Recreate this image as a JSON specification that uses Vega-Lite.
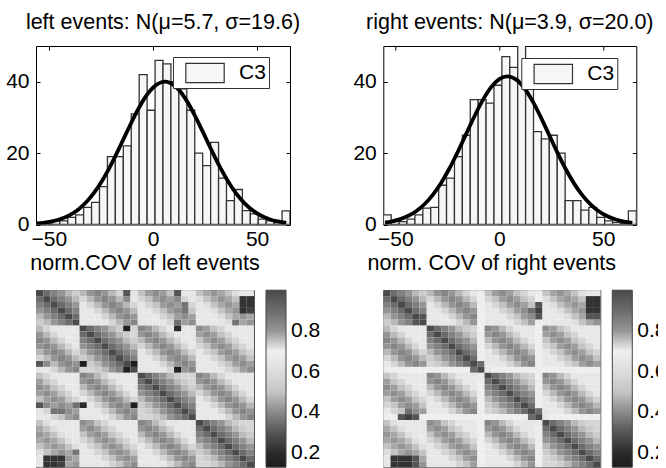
{
  "$schema": "https://vega.github.io/schema/vega-lite/v6.json",
  "padding": {"left": 5, "top": 11, "right": -10, "bottom": -1},
  "background": "white",
  "config": {"font": "Liberation Sans", "view": {"stroke": "black"}, "axis": {"labelColor": "black", "tickColor": "black"}},
  "columns": 2,
  "bounds": "flush",
  "spacing": {"row": 65.2, "column": 93.3},
  "resolve": {"scale": {"fill": "independent", "color": "independent"}, "legend": {"fill": "independent", "color": "independent"}},
  "datasets": {
    "L": [
{"r":0,"c":0,"v":1},{"r":0,"c":1,"v":0.9},{"r":0,"c":2,"v":0.85},{"r":0,"c":3,"v":0.8},{"r":0,"c":4,"v":0.76},{"r":0,"c":5,"v":0.74},{"r":0,"c":6,"v":0.76},{"r":0,"c":7,"v":0.8},{"r":0,"c":8,"v":0.84},{"r":0,"c":9,"v":0.8},{"r":0,"c":10,"v":0.76},{"r":0,"c":11,"v":0.73},{"r":0,"c":12,"v":0.3},{"r":0,"c":13,"v":0.71},{"r":0,"c":14,"v":0.75},{"r":0,"c":15,"v":0.79},{"r":0,"c":16,"v":0.82},{"r":0,"c":17,"v":0.79},{"r":0,"c":18,"v":0.75},{"r":0,"c":19,"v":0.3},{"r":0,"c":20,"v":0.71},{"r":0,"c":21,"v":0.71},{"r":0,"c":22,"v":0.75},{"r":0,"c":23,"v":0.78},{"r":0,"c":24,"v":0.8},{"r":0,"c":25,"v":0.78},{"r":0,"c":26,"v":0.75},{"r":0,"c":27,"v":0.72},{"r":0,"c":28,"v":0.71},{"r":0,"c":29,"v":0.71},
{"r":1,"c":0,"v":0.9},{"r":1,"c":1,"v":1},{"r":1,"c":2,"v":0.9},{"r":1,"c":3,"v":0.85},{"r":1,"c":4,"v":0.8},{"r":1,"c":5,"v":0.76},{"r":1,"c":6,"v":0.73},{"r":1,"c":7,"v":0.76},{"r":1,"c":8,"v":0.8},{"r":1,"c":9,"v":0.84},{"r":1,"c":10,"v":0.8},{"r":1,"c":11,"v":0.76},{"r":1,"c":12,"v":0.4},{"r":1,"c":13,"v":0.71},{"r":1,"c":14,"v":0.73},{"r":1,"c":15,"v":0.75},{"r":1,"c":16,"v":0.79},{"r":1,"c":17,"v":0.82},{"r":1,"c":18,"v":0.79},{"r":1,"c":19,"v":0.4},{"r":1,"c":20,"v":0.73},{"r":1,"c":21,"v":0.71},{"r":1,"c":22,"v":0.72},{"r":1,"c":23,"v":0.75},{"r":1,"c":24,"v":0.78},{"r":1,"c":25,"v":0.8},{"r":1,"c":26,"v":0.78},{"r":1,"c":27,"v":0.75},{"r":1,"c":28,"v":0.22},{"r":1,"c":29,"v":0.22},
{"r":2,"c":0,"v":0.85},{"r":2,"c":1,"v":0.9},{"r":2,"c":2,"v":1},{"r":2,"c":3,"v":0.9},{"r":2,"c":4,"v":0.85},{"r":2,"c":5,"v":0.8},{"r":2,"c":6,"v":0.71},{"r":2,"c":7,"v":0.73},{"r":2,"c":8,"v":0.76},{"r":2,"c":9,"v":0.8},{"r":2,"c":10,"v":0.84},{"r":2,"c":11,"v":0.8},{"r":2,"c":12,"v":0.76},{"r":2,"c":13,"v":0.73},{"r":2,"c":14,"v":0.71},{"r":2,"c":15,"v":0.73},{"r":2,"c":16,"v":0.75},{"r":2,"c":17,"v":0.79},{"r":2,"c":18,"v":0.82},{"r":2,"c":19,"v":0.79},{"r":2,"c":20,"v":0.88},{"r":2,"c":21,"v":0.73},{"r":2,"c":22,"v":0.71},{"r":2,"c":23,"v":0.72},{"r":2,"c":24,"v":0.75},{"r":2,"c":25,"v":0.78},{"r":2,"c":26,"v":0.8},{"r":2,"c":27,"v":0.78},{"r":2,"c":28,"v":0.22},{"r":2,"c":29,"v":0.22},
{"r":3,"c":0,"v":0.8},{"r":3,"c":1,"v":0.85},{"r":3,"c":2,"v":0.9},{"r":3,"c":3,"v":1},{"r":3,"c":4,"v":0.9},{"r":3,"c":5,"v":0.85},{"r":3,"c":6,"v":0.71},{"r":3,"c":7,"v":0.71},{"r":3,"c":8,"v":0.73},{"r":3,"c":9,"v":0.76},{"r":3,"c":10,"v":0.8},{"r":3,"c":11,"v":0.84},{"r":3,"c":12,"v":0.8},{"r":3,"c":13,"v":0.76},{"r":3,"c":14,"v":0.71},{"r":3,"c":15,"v":0.71},{"r":3,"c":16,"v":0.73},{"r":3,"c":17,"v":0.75},{"r":3,"c":18,"v":0.79},{"r":3,"c":19,"v":0.82},{"r":3,"c":20,"v":0.88},{"r":3,"c":21,"v":0.75},{"r":3,"c":22,"v":0.71},{"r":3,"c":23,"v":0.71},{"r":3,"c":24,"v":0.72},{"r":3,"c":25,"v":0.75},{"r":3,"c":26,"v":0.78},{"r":3,"c":27,"v":0.8},{"r":3,"c":28,"v":0.22},{"r":3,"c":29,"v":0.25},
{"r":4,"c":0,"v":0.76},{"r":4,"c":1,"v":0.8},{"r":4,"c":2,"v":0.85},{"r":4,"c":3,"v":0.9},{"r":4,"c":4,"v":1},{"r":4,"c":5,"v":0.9},{"r":4,"c":6,"v":0.71},{"r":4,"c":7,"v":0.71},{"r":4,"c":8,"v":0.71},{"r":4,"c":9,"v":0.73},{"r":4,"c":10,"v":0.76},{"r":4,"c":11,"v":0.8},{"r":4,"c":12,"v":0.84},{"r":4,"c":13,"v":0.8},{"r":4,"c":14,"v":0.71},{"r":4,"c":15,"v":0.71},{"r":4,"c":16,"v":0.71},{"r":4,"c":17,"v":0.73},{"r":4,"c":18,"v":0.75},{"r":4,"c":19,"v":0.79},{"r":4,"c":20,"v":0.82},{"r":4,"c":21,"v":0.79},{"r":4,"c":22,"v":0.71},{"r":4,"c":23,"v":0.71},{"r":4,"c":24,"v":0.71},{"r":4,"c":25,"v":0.72},{"r":4,"c":26,"v":0.75},{"r":4,"c":27,"v":0.78},{"r":4,"c":28,"v":0.8},{"r":4,"c":29,"v":0.78},
{"r":5,"c":0,"v":0.74},{"r":5,"c":1,"v":0.76},{"r":5,"c":2,"v":0.8},{"r":5,"c":3,"v":0.85},{"r":5,"c":4,"v":0.9},{"r":5,"c":5,"v":1},{"r":5,"c":6,"v":0.71},{"r":5,"c":7,"v":0.71},{"r":5,"c":8,"v":0.71},{"r":5,"c":9,"v":0.71},{"r":5,"c":10,"v":0.73},{"r":5,"c":11,"v":0.76},{"r":5,"c":12,"v":0.8},{"r":5,"c":13,"v":0.84},{"r":5,"c":14,"v":0.71},{"r":5,"c":15,"v":0.71},{"r":5,"c":16,"v":0.71},{"r":5,"c":17,"v":0.71},{"r":5,"c":18,"v":0.73},{"r":5,"c":19,"v":0.35},{"r":5,"c":20,"v":0.79},{"r":5,"c":21,"v":0.82},{"r":5,"c":22,"v":0.71},{"r":5,"c":23,"v":0.71},{"r":5,"c":24,"v":0.71},{"r":5,"c":25,"v":0.71},{"r":5,"c":26,"v":0.72},{"r":5,"c":27,"v":0.88},{"r":5,"c":28,"v":0.78},{"r":5,"c":29,"v":0.8},
{"r":6,"c":0,"v":0.76},{"r":6,"c":1,"v":0.73},{"r":6,"c":2,"v":0.71},{"r":6,"c":3,"v":0.71},{"r":6,"c":4,"v":0.71},{"r":6,"c":5,"v":0.71},{"r":6,"c":6,"v":1},{"r":6,"c":7,"v":0.9},{"r":6,"c":8,"v":0.85},{"r":6,"c":9,"v":0.8},{"r":6,"c":10,"v":0.76},{"r":6,"c":11,"v":0.74},{"r":6,"c":12,"v":0.15},{"r":6,"c":13,"v":0.73},{"r":6,"c":14,"v":0.84},{"r":6,"c":15,"v":0.8},{"r":6,"c":16,"v":0.76},{"r":6,"c":17,"v":0.73},{"r":6,"c":18,"v":0.71},{"r":6,"c":19,"v":0.2},{"r":6,"c":20,"v":0.71},{"r":6,"c":21,"v":0.71},{"r":6,"c":22,"v":0.82},{"r":6,"c":23,"v":0.79},{"r":6,"c":24,"v":0.75},{"r":6,"c":25,"v":0.73},{"r":6,"c":26,"v":0.71},{"r":6,"c":27,"v":0.71},{"r":6,"c":28,"v":0.71},{"r":6,"c":29,"v":0.71},
{"r":7,"c":0,"v":0.8},{"r":7,"c":1,"v":0.76},{"r":7,"c":2,"v":0.73},{"r":7,"c":3,"v":0.71},{"r":7,"c":4,"v":0.71},{"r":7,"c":5,"v":0.71},{"r":7,"c":6,"v":0.9},{"r":7,"c":7,"v":1},{"r":7,"c":8,"v":0.9},{"r":7,"c":9,"v":0.85},{"r":7,"c":10,"v":0.8},{"r":7,"c":11,"v":0.76},{"r":7,"c":12,"v":0.74},{"r":7,"c":13,"v":0.73},{"r":7,"c":14,"v":0.8},{"r":7,"c":15,"v":0.84},{"r":7,"c":16,"v":0.8},{"r":7,"c":17,"v":0.76},{"r":7,"c":18,"v":0.73},{"r":7,"c":19,"v":0.71},{"r":7,"c":20,"v":0.71},{"r":7,"c":21,"v":0.71},{"r":7,"c":22,"v":0.79},{"r":7,"c":23,"v":0.82},{"r":7,"c":24,"v":0.79},{"r":7,"c":25,"v":0.75},{"r":7,"c":26,"v":0.73},{"r":7,"c":27,"v":0.71},{"r":7,"c":28,"v":0.71},{"r":7,"c":29,"v":0.71},
{"r":8,"c":0,"v":0.84},{"r":8,"c":1,"v":0.8},{"r":8,"c":2,"v":0.76},{"r":8,"c":3,"v":0.73},{"r":8,"c":4,"v":0.71},{"r":8,"c":5,"v":0.71},{"r":8,"c":6,"v":0.85},{"r":8,"c":7,"v":0.9},{"r":8,"c":8,"v":1},{"r":8,"c":9,"v":0.9},{"r":8,"c":10,"v":0.85},{"r":8,"c":11,"v":0.8},{"r":8,"c":12,"v":0.76},{"r":8,"c":13,"v":0.74},{"r":8,"c":14,"v":0.76},{"r":8,"c":15,"v":0.8},{"r":8,"c":16,"v":0.84},{"r":8,"c":17,"v":0.8},{"r":8,"c":18,"v":0.76},{"r":8,"c":19,"v":0.73},{"r":8,"c":20,"v":0.71},{"r":8,"c":21,"v":0.71},{"r":8,"c":22,"v":0.75},{"r":8,"c":23,"v":0.79},{"r":8,"c":24,"v":0.82},{"r":8,"c":25,"v":0.79},{"r":8,"c":26,"v":0.75},{"r":8,"c":27,"v":0.73},{"r":8,"c":28,"v":0.71},{"r":8,"c":29,"v":0.71},
{"r":9,"c":0,"v":0.8},{"r":9,"c":1,"v":0.84},{"r":9,"c":2,"v":0.8},{"r":9,"c":3,"v":0.76},{"r":9,"c":4,"v":0.73},{"r":9,"c":5,"v":0.71},{"r":9,"c":6,"v":0.8},{"r":9,"c":7,"v":0.85},{"r":9,"c":8,"v":0.9},{"r":9,"c":9,"v":1},{"r":9,"c":10,"v":0.9},{"r":9,"c":11,"v":0.85},{"r":9,"c":12,"v":0.8},{"r":9,"c":13,"v":0.76},{"r":9,"c":14,"v":0.73},{"r":9,"c":15,"v":0.76},{"r":9,"c":16,"v":0.8},{"r":9,"c":17,"v":0.84},{"r":9,"c":18,"v":0.8},{"r":9,"c":19,"v":0.76},{"r":9,"c":20,"v":0.73},{"r":9,"c":21,"v":0.71},{"r":9,"c":22,"v":0.73},{"r":9,"c":23,"v":0.75},{"r":9,"c":24,"v":0.79},{"r":9,"c":25,"v":0.82},{"r":9,"c":26,"v":0.79},{"r":9,"c":27,"v":0.75},{"r":9,"c":28,"v":0.73},{"r":9,"c":29,"v":0.71},
{"r":10,"c":0,"v":0.76},{"r":10,"c":1,"v":0.8},{"r":10,"c":2,"v":0.84},{"r":10,"c":3,"v":0.8},{"r":10,"c":4,"v":0.76},{"r":10,"c":5,"v":0.73},{"r":10,"c":6,"v":0.76},{"r":10,"c":7,"v":0.8},{"r":10,"c":8,"v":0.85},{"r":10,"c":9,"v":0.9},{"r":10,"c":10,"v":1},{"r":10,"c":11,"v":0.9},{"r":10,"c":12,"v":0.85},{"r":10,"c":13,"v":0.8},{"r":10,"c":14,"v":0.71},{"r":10,"c":15,"v":0.73},{"r":10,"c":16,"v":0.76},{"r":10,"c":17,"v":0.8},{"r":10,"c":18,"v":0.84},{"r":10,"c":19,"v":0.8},{"r":10,"c":20,"v":0.76},{"r":10,"c":21,"v":0.73},{"r":10,"c":22,"v":0.71},{"r":10,"c":23,"v":0.73},{"r":10,"c":24,"v":0.75},{"r":10,"c":25,"v":0.79},{"r":10,"c":26,"v":0.82},{"r":10,"c":27,"v":0.79},{"r":10,"c":28,"v":0.75},{"r":10,"c":29,"v":0.73},
{"r":11,"c":0,"v":0.73},{"r":11,"c":1,"v":0.76},{"r":11,"c":2,"v":0.8},{"r":11,"c":3,"v":0.84},{"r":11,"c":4,"v":0.8},{"r":11,"c":5,"v":0.76},{"r":11,"c":6,"v":0.74},{"r":11,"c":7,"v":0.76},{"r":11,"c":8,"v":0.8},{"r":11,"c":9,"v":0.85},{"r":11,"c":10,"v":0.9},{"r":11,"c":11,"v":1},{"r":11,"c":12,"v":0.9},{"r":11,"c":13,"v":0.85},{"r":11,"c":14,"v":0.71},{"r":11,"c":15,"v":0.71},{"r":11,"c":16,"v":0.73},{"r":11,"c":17,"v":0.76},{"r":11,"c":18,"v":0.8},{"r":11,"c":19,"v":0.84},{"r":11,"c":20,"v":0.8},{"r":11,"c":21,"v":0.76},{"r":11,"c":22,"v":0.71},{"r":11,"c":23,"v":0.71},{"r":11,"c":24,"v":0.73},{"r":11,"c":25,"v":0.75},{"r":11,"c":26,"v":0.79},{"r":11,"c":27,"v":0.82},{"r":11,"c":28,"v":0.79},{"r":11,"c":29,"v":0.75},
{"r":12,"c":0,"v":0.3},{"r":12,"c":1,"v":0.4},{"r":12,"c":2,"v":0.76},{"r":12,"c":3,"v":0.8},{"r":12,"c":4,"v":0.84},{"r":12,"c":5,"v":0.8},{"r":12,"c":6,"v":0.15},{"r":12,"c":7,"v":0.74},{"r":12,"c":8,"v":0.76},{"r":12,"c":9,"v":0.8},{"r":12,"c":10,"v":0.85},{"r":12,"c":11,"v":0.9},{"r":12,"c":12,"v":1},{"r":12,"c":13,"v":0.15},{"r":12,"c":14,"v":0.71},{"r":12,"c":15,"v":0.71},{"r":12,"c":16,"v":0.71},{"r":12,"c":17,"v":0.73},{"r":12,"c":18,"v":0.76},{"r":12,"c":19,"v":0.8},{"r":12,"c":20,"v":0.84},{"r":12,"c":21,"v":0.8},{"r":12,"c":22,"v":0.71},{"r":12,"c":23,"v":0.71},{"r":12,"c":24,"v":0.71},{"r":12,"c":25,"v":0.73},{"r":12,"c":26,"v":0.75},{"r":12,"c":27,"v":0.79},{"r":12,"c":28,"v":0.82},{"r":12,"c":29,"v":0.79},
{"r":13,"c":0,"v":0.71},{"r":13,"c":1,"v":0.71},{"r":13,"c":2,"v":0.73},{"r":13,"c":3,"v":0.76},{"r":13,"c":4,"v":0.8},{"r":13,"c":5,"v":0.84},{"r":13,"c":6,"v":0.73},{"r":13,"c":7,"v":0.73},{"r":13,"c":8,"v":0.74},{"r":13,"c":9,"v":0.76},{"r":13,"c":10,"v":0.8},{"r":13,"c":11,"v":0.85},{"r":13,"c":12,"v":0.15},{"r":13,"c":13,"v":1},{"r":13,"c":14,"v":0.71},{"r":13,"c":15,"v":0.71},{"r":13,"c":16,"v":0.71},{"r":13,"c":17,"v":0.71},{"r":13,"c":18,"v":0.73},{"r":13,"c":19,"v":0.15},{"r":13,"c":20,"v":0.8},{"r":13,"c":21,"v":0.84},{"r":13,"c":22,"v":0.71},{"r":13,"c":23,"v":0.71},{"r":13,"c":24,"v":0.71},{"r":13,"c":25,"v":0.71},{"r":13,"c":26,"v":0.73},{"r":13,"c":27,"v":0.75},{"r":13,"c":28,"v":0.79},{"r":13,"c":29,"v":0.82},
{"r":14,"c":0,"v":0.75},{"r":14,"c":1,"v":0.73},{"r":14,"c":2,"v":0.71},{"r":14,"c":3,"v":0.71},{"r":14,"c":4,"v":0.71},{"r":14,"c":5,"v":0.71},{"r":14,"c":6,"v":0.84},{"r":14,"c":7,"v":0.8},{"r":14,"c":8,"v":0.76},{"r":14,"c":9,"v":0.73},{"r":14,"c":10,"v":0.71},{"r":14,"c":11,"v":0.71},{"r":14,"c":12,"v":0.71},{"r":14,"c":13,"v":0.71},{"r":14,"c":14,"v":1},{"r":14,"c":15,"v":0.9},{"r":14,"c":16,"v":0.85},{"r":14,"c":17,"v":0.8},{"r":14,"c":18,"v":0.76},{"r":14,"c":19,"v":0.74},{"r":14,"c":20,"v":0.73},{"r":14,"c":21,"v":0.73},{"r":14,"c":22,"v":0.84},{"r":14,"c":23,"v":0.8},{"r":14,"c":24,"v":0.76},{"r":14,"c":25,"v":0.73},{"r":14,"c":26,"v":0.71},{"r":14,"c":27,"v":0.71},{"r":14,"c":28,"v":0.71},{"r":14,"c":29,"v":0.71},
{"r":15,"c":0,"v":0.79},{"r":15,"c":1,"v":0.75},{"r":15,"c":2,"v":0.73},{"r":15,"c":3,"v":0.71},{"r":15,"c":4,"v":0.71},{"r":15,"c":5,"v":0.71},{"r":15,"c":6,"v":0.8},{"r":15,"c":7,"v":0.84},{"r":15,"c":8,"v":0.8},{"r":15,"c":9,"v":0.76},{"r":15,"c":10,"v":0.73},{"r":15,"c":11,"v":0.71},{"r":15,"c":12,"v":0.71},{"r":15,"c":13,"v":0.71},{"r":15,"c":14,"v":0.9},{"r":15,"c":15,"v":1},{"r":15,"c":16,"v":0.9},{"r":15,"c":17,"v":0.85},{"r":15,"c":18,"v":0.8},{"r":15,"c":19,"v":0.76},{"r":15,"c":20,"v":0.74},{"r":15,"c":21,"v":0.73},{"r":15,"c":22,"v":0.8},{"r":15,"c":23,"v":0.84},{"r":15,"c":24,"v":0.8},{"r":15,"c":25,"v":0.76},{"r":15,"c":26,"v":0.73},{"r":15,"c":27,"v":0.71},{"r":15,"c":28,"v":0.71},{"r":15,"c":29,"v":0.71},
{"r":16,"c":0,"v":0.82},{"r":16,"c":1,"v":0.79},{"r":16,"c":2,"v":0.75},{"r":16,"c":3,"v":0.73},{"r":16,"c":4,"v":0.71},{"r":16,"c":5,"v":0.71},{"r":16,"c":6,"v":0.76},{"r":16,"c":7,"v":0.8},{"r":16,"c":8,"v":0.84},{"r":16,"c":9,"v":0.8},{"r":16,"c":10,"v":0.76},{"r":16,"c":11,"v":0.73},{"r":16,"c":12,"v":0.71},{"r":16,"c":13,"v":0.71},{"r":16,"c":14,"v":0.85},{"r":16,"c":15,"v":0.9},{"r":16,"c":16,"v":1},{"r":16,"c":17,"v":0.9},{"r":16,"c":18,"v":0.85},{"r":16,"c":19,"v":0.8},{"r":16,"c":20,"v":0.76},{"r":16,"c":21,"v":0.74},{"r":16,"c":22,"v":0.76},{"r":16,"c":23,"v":0.8},{"r":16,"c":24,"v":0.84},{"r":16,"c":25,"v":0.8},{"r":16,"c":26,"v":0.76},{"r":16,"c":27,"v":0.73},{"r":16,"c":28,"v":0.71},{"r":16,"c":29,"v":0.71},
{"r":17,"c":0,"v":0.79},{"r":17,"c":1,"v":0.82},{"r":17,"c":2,"v":0.79},{"r":17,"c":3,"v":0.75},{"r":17,"c":4,"v":0.73},{"r":17,"c":5,"v":0.71},{"r":17,"c":6,"v":0.73},{"r":17,"c":7,"v":0.76},{"r":17,"c":8,"v":0.8},{"r":17,"c":9,"v":0.84},{"r":17,"c":10,"v":0.8},{"r":17,"c":11,"v":0.76},{"r":17,"c":12,"v":0.73},{"r":17,"c":13,"v":0.71},{"r":17,"c":14,"v":0.8},{"r":17,"c":15,"v":0.85},{"r":17,"c":16,"v":0.9},{"r":17,"c":17,"v":1},{"r":17,"c":18,"v":0.9},{"r":17,"c":19,"v":0.85},{"r":17,"c":20,"v":0.8},{"r":17,"c":21,"v":0.76},{"r":17,"c":22,"v":0.73},{"r":17,"c":23,"v":0.76},{"r":17,"c":24,"v":0.8},{"r":17,"c":25,"v":0.84},{"r":17,"c":26,"v":0.8},{"r":17,"c":27,"v":0.76},{"r":17,"c":28,"v":0.73},{"r":17,"c":29,"v":0.71},
{"r":18,"c":0,"v":0.75},{"r":18,"c":1,"v":0.79},{"r":18,"c":2,"v":0.82},{"r":18,"c":3,"v":0.79},{"r":18,"c":4,"v":0.75},{"r":18,"c":5,"v":0.73},{"r":18,"c":6,"v":0.71},{"r":18,"c":7,"v":0.73},{"r":18,"c":8,"v":0.76},{"r":18,"c":9,"v":0.8},{"r":18,"c":10,"v":0.84},{"r":18,"c":11,"v":0.8},{"r":18,"c":12,"v":0.76},{"r":18,"c":13,"v":0.73},{"r":18,"c":14,"v":0.76},{"r":18,"c":15,"v":0.8},{"r":18,"c":16,"v":0.85},{"r":18,"c":17,"v":0.9},{"r":18,"c":18,"v":1},{"r":18,"c":19,"v":0.9},{"r":18,"c":20,"v":0.85},{"r":18,"c":21,"v":0.8},{"r":18,"c":22,"v":0.71},{"r":18,"c":23,"v":0.73},{"r":18,"c":24,"v":0.76},{"r":18,"c":25,"v":0.8},{"r":18,"c":26,"v":0.84},{"r":18,"c":27,"v":0.8},{"r":18,"c":28,"v":0.76},{"r":18,"c":29,"v":0.73},
{"r":19,"c":0,"v":0.3},{"r":19,"c":1,"v":0.4},{"r":19,"c":2,"v":0.79},{"r":19,"c":3,"v":0.82},{"r":19,"c":4,"v":0.79},{"r":19,"c":5,"v":0.35},{"r":19,"c":6,"v":0.2},{"r":19,"c":7,"v":0.71},{"r":19,"c":8,"v":0.73},{"r":19,"c":9,"v":0.76},{"r":19,"c":10,"v":0.8},{"r":19,"c":11,"v":0.84},{"r":19,"c":12,"v":0.8},{"r":19,"c":13,"v":0.15},{"r":19,"c":14,"v":0.74},{"r":19,"c":15,"v":0.76},{"r":19,"c":16,"v":0.8},{"r":19,"c":17,"v":0.85},{"r":19,"c":18,"v":0.9},{"r":19,"c":19,"v":1},{"r":19,"c":20,"v":0.9},{"r":19,"c":21,"v":0.85},{"r":19,"c":22,"v":0.71},{"r":19,"c":23,"v":0.71},{"r":19,"c":24,"v":0.73},{"r":19,"c":25,"v":0.76},{"r":19,"c":26,"v":0.8},{"r":19,"c":27,"v":0.84},{"r":19,"c":28,"v":0.8},{"r":19,"c":29,"v":0.76},
{"r":20,"c":0,"v":0.71},{"r":20,"c":1,"v":0.73},{"r":20,"c":2,"v":0.88},{"r":20,"c":3,"v":0.88},{"r":20,"c":4,"v":0.82},{"r":20,"c":5,"v":0.79},{"r":20,"c":6,"v":0.71},{"r":20,"c":7,"v":0.71},{"r":20,"c":8,"v":0.71},{"r":20,"c":9,"v":0.73},{"r":20,"c":10,"v":0.76},{"r":20,"c":11,"v":0.8},{"r":20,"c":12,"v":0.84},{"r":20,"c":13,"v":0.8},{"r":20,"c":14,"v":0.73},{"r":20,"c":15,"v":0.74},{"r":20,"c":16,"v":0.76},{"r":20,"c":17,"v":0.8},{"r":20,"c":18,"v":0.85},{"r":20,"c":19,"v":0.9},{"r":20,"c":20,"v":1},{"r":20,"c":21,"v":0.9},{"r":20,"c":22,"v":0.71},{"r":20,"c":23,"v":0.71},{"r":20,"c":24,"v":0.71},{"r":20,"c":25,"v":0.73},{"r":20,"c":26,"v":0.76},{"r":20,"c":27,"v":0.8},{"r":20,"c":28,"v":0.84},{"r":20,"c":29,"v":0.8},
{"r":21,"c":0,"v":0.71},{"r":21,"c":1,"v":0.71},{"r":21,"c":2,"v":0.73},{"r":21,"c":3,"v":0.75},{"r":21,"c":4,"v":0.79},{"r":21,"c":5,"v":0.82},{"r":21,"c":6,"v":0.71},{"r":21,"c":7,"v":0.71},{"r":21,"c":8,"v":0.71},{"r":21,"c":9,"v":0.71},{"r":21,"c":10,"v":0.73},{"r":21,"c":11,"v":0.76},{"r":21,"c":12,"v":0.8},{"r":21,"c":13,"v":0.84},{"r":21,"c":14,"v":0.73},{"r":21,"c":15,"v":0.73},{"r":21,"c":16,"v":0.74},{"r":21,"c":17,"v":0.76},{"r":21,"c":18,"v":0.8},{"r":21,"c":19,"v":0.85},{"r":21,"c":20,"v":0.9},{"r":21,"c":21,"v":1},{"r":21,"c":22,"v":0.71},{"r":21,"c":23,"v":0.71},{"r":21,"c":24,"v":0.71},{"r":21,"c":25,"v":0.71},{"r":21,"c":26,"v":0.73},{"r":21,"c":27,"v":0.76},{"r":21,"c":28,"v":0.8},{"r":21,"c":29,"v":0.84},
{"r":22,"c":0,"v":0.75},{"r":22,"c":1,"v":0.72},{"r":22,"c":2,"v":0.71},{"r":22,"c":3,"v":0.71},{"r":22,"c":4,"v":0.71},{"r":22,"c":5,"v":0.71},{"r":22,"c":6,"v":0.82},{"r":22,"c":7,"v":0.79},{"r":22,"c":8,"v":0.75},{"r":22,"c":9,"v":0.73},{"r":22,"c":10,"v":0.71},{"r":22,"c":11,"v":0.71},{"r":22,"c":12,"v":0.71},{"r":22,"c":13,"v":0.71},{"r":22,"c":14,"v":0.84},{"r":22,"c":15,"v":0.8},{"r":22,"c":16,"v":0.76},{"r":22,"c":17,"v":0.73},{"r":22,"c":18,"v":0.71},{"r":22,"c":19,"v":0.71},{"r":22,"c":20,"v":0.71},{"r":22,"c":21,"v":0.71},{"r":22,"c":22,"v":1},{"r":22,"c":23,"v":0.9},{"r":22,"c":24,"v":0.85},{"r":22,"c":25,"v":0.8},{"r":22,"c":26,"v":0.76},{"r":22,"c":27,"v":0.74},{"r":22,"c":28,"v":0.73},{"r":22,"c":29,"v":0.73},
{"r":23,"c":0,"v":0.78},{"r":23,"c":1,"v":0.75},{"r":23,"c":2,"v":0.72},{"r":23,"c":3,"v":0.71},{"r":23,"c":4,"v":0.71},{"r":23,"c":5,"v":0.71},{"r":23,"c":6,"v":0.79},{"r":23,"c":7,"v":0.82},{"r":23,"c":8,"v":0.79},{"r":23,"c":9,"v":0.75},{"r":23,"c":10,"v":0.73},{"r":23,"c":11,"v":0.71},{"r":23,"c":12,"v":0.71},{"r":23,"c":13,"v":0.71},{"r":23,"c":14,"v":0.8},{"r":23,"c":15,"v":0.84},{"r":23,"c":16,"v":0.8},{"r":23,"c":17,"v":0.76},{"r":23,"c":18,"v":0.73},{"r":23,"c":19,"v":0.71},{"r":23,"c":20,"v":0.71},{"r":23,"c":21,"v":0.71},{"r":23,"c":22,"v":0.9},{"r":23,"c":23,"v":1},{"r":23,"c":24,"v":0.9},{"r":23,"c":25,"v":0.85},{"r":23,"c":26,"v":0.8},{"r":23,"c":27,"v":0.76},{"r":23,"c":28,"v":0.74},{"r":23,"c":29,"v":0.73},
{"r":24,"c":0,"v":0.8},{"r":24,"c":1,"v":0.78},{"r":24,"c":2,"v":0.75},{"r":24,"c":3,"v":0.72},{"r":24,"c":4,"v":0.71},{"r":24,"c":5,"v":0.71},{"r":24,"c":6,"v":0.75},{"r":24,"c":7,"v":0.79},{"r":24,"c":8,"v":0.82},{"r":24,"c":9,"v":0.79},{"r":24,"c":10,"v":0.75},{"r":24,"c":11,"v":0.73},{"r":24,"c":12,"v":0.71},{"r":24,"c":13,"v":0.71},{"r":24,"c":14,"v":0.76},{"r":24,"c":15,"v":0.8},{"r":24,"c":16,"v":0.84},{"r":24,"c":17,"v":0.8},{"r":24,"c":18,"v":0.76},{"r":24,"c":19,"v":0.73},{"r":24,"c":20,"v":0.71},{"r":24,"c":21,"v":0.71},{"r":24,"c":22,"v":0.85},{"r":24,"c":23,"v":0.9},{"r":24,"c":24,"v":1},{"r":24,"c":25,"v":0.9},{"r":24,"c":26,"v":0.85},{"r":24,"c":27,"v":0.8},{"r":24,"c":28,"v":0.76},{"r":24,"c":29,"v":0.74},
{"r":25,"c":0,"v":0.78},{"r":25,"c":1,"v":0.8},{"r":25,"c":2,"v":0.78},{"r":25,"c":3,"v":0.75},{"r":25,"c":4,"v":0.72},{"r":25,"c":5,"v":0.71},{"r":25,"c":6,"v":0.73},{"r":25,"c":7,"v":0.75},{"r":25,"c":8,"v":0.79},{"r":25,"c":9,"v":0.82},{"r":25,"c":10,"v":0.79},{"r":25,"c":11,"v":0.75},{"r":25,"c":12,"v":0.73},{"r":25,"c":13,"v":0.71},{"r":25,"c":14,"v":0.73},{"r":25,"c":15,"v":0.76},{"r":25,"c":16,"v":0.8},{"r":25,"c":17,"v":0.84},{"r":25,"c":18,"v":0.8},{"r":25,"c":19,"v":0.76},{"r":25,"c":20,"v":0.73},{"r":25,"c":21,"v":0.71},{"r":25,"c":22,"v":0.8},{"r":25,"c":23,"v":0.85},{"r":25,"c":24,"v":0.9},{"r":25,"c":25,"v":1},{"r":25,"c":26,"v":0.9},{"r":25,"c":27,"v":0.85},{"r":25,"c":28,"v":0.8},{"r":25,"c":29,"v":0.76},
{"r":26,"c":0,"v":0.75},{"r":26,"c":1,"v":0.78},{"r":26,"c":2,"v":0.8},{"r":26,"c":3,"v":0.78},{"r":26,"c":4,"v":0.75},{"r":26,"c":5,"v":0.72},{"r":26,"c":6,"v":0.71},{"r":26,"c":7,"v":0.73},{"r":26,"c":8,"v":0.75},{"r":26,"c":9,"v":0.79},{"r":26,"c":10,"v":0.82},{"r":26,"c":11,"v":0.79},{"r":26,"c":12,"v":0.75},{"r":26,"c":13,"v":0.73},{"r":26,"c":14,"v":0.71},{"r":26,"c":15,"v":0.73},{"r":26,"c":16,"v":0.76},{"r":26,"c":17,"v":0.8},{"r":26,"c":18,"v":0.84},{"r":26,"c":19,"v":0.8},{"r":26,"c":20,"v":0.76},{"r":26,"c":21,"v":0.73},{"r":26,"c":22,"v":0.76},{"r":26,"c":23,"v":0.8},{"r":26,"c":24,"v":0.85},{"r":26,"c":25,"v":0.9},{"r":26,"c":26,"v":1},{"r":26,"c":27,"v":0.9},{"r":26,"c":28,"v":0.85},{"r":26,"c":29,"v":0.8},
{"r":27,"c":0,"v":0.72},{"r":27,"c":1,"v":0.75},{"r":27,"c":2,"v":0.78},{"r":27,"c":3,"v":0.8},{"r":27,"c":4,"v":0.78},{"r":27,"c":5,"v":0.88},{"r":27,"c":6,"v":0.71},{"r":27,"c":7,"v":0.71},{"r":27,"c":8,"v":0.73},{"r":27,"c":9,"v":0.75},{"r":27,"c":10,"v":0.79},{"r":27,"c":11,"v":0.82},{"r":27,"c":12,"v":0.79},{"r":27,"c":13,"v":0.75},{"r":27,"c":14,"v":0.71},{"r":27,"c":15,"v":0.71},{"r":27,"c":16,"v":0.73},{"r":27,"c":17,"v":0.76},{"r":27,"c":18,"v":0.8},{"r":27,"c":19,"v":0.84},{"r":27,"c":20,"v":0.8},{"r":27,"c":21,"v":0.76},{"r":27,"c":22,"v":0.74},{"r":27,"c":23,"v":0.76},{"r":27,"c":24,"v":0.8},{"r":27,"c":25,"v":0.85},{"r":27,"c":26,"v":0.9},{"r":27,"c":27,"v":1},{"r":27,"c":28,"v":0.9},{"r":27,"c":29,"v":0.85},
{"r":28,"c":0,"v":0.71},{"r":28,"c":1,"v":0.22},{"r":28,"c":2,"v":0.22},{"r":28,"c":3,"v":0.22},{"r":28,"c":4,"v":0.8},{"r":28,"c":5,"v":0.78},{"r":28,"c":6,"v":0.71},{"r":28,"c":7,"v":0.71},{"r":28,"c":8,"v":0.71},{"r":28,"c":9,"v":0.73},{"r":28,"c":10,"v":0.75},{"r":28,"c":11,"v":0.79},{"r":28,"c":12,"v":0.82},{"r":28,"c":13,"v":0.79},{"r":28,"c":14,"v":0.71},{"r":28,"c":15,"v":0.71},{"r":28,"c":16,"v":0.71},{"r":28,"c":17,"v":0.73},{"r":28,"c":18,"v":0.76},{"r":28,"c":19,"v":0.8},{"r":28,"c":20,"v":0.84},{"r":28,"c":21,"v":0.8},{"r":28,"c":22,"v":0.73},{"r":28,"c":23,"v":0.74},{"r":28,"c":24,"v":0.76},{"r":28,"c":25,"v":0.8},{"r":28,"c":26,"v":0.85},{"r":28,"c":27,"v":0.9},{"r":28,"c":28,"v":1},{"r":28,"c":29,"v":0.9},
{"r":29,"c":0,"v":0.71},{"r":29,"c":1,"v":0.22},{"r":29,"c":2,"v":0.22},{"r":29,"c":3,"v":0.25},{"r":29,"c":4,"v":0.78},{"r":29,"c":5,"v":0.8},{"r":29,"c":6,"v":0.71},{"r":29,"c":7,"v":0.71},{"r":29,"c":8,"v":0.71},{"r":29,"c":9,"v":0.71},{"r":29,"c":10,"v":0.73},{"r":29,"c":11,"v":0.75},{"r":29,"c":12,"v":0.79},{"r":29,"c":13,"v":0.82},{"r":29,"c":14,"v":0.71},{"r":29,"c":15,"v":0.71},{"r":29,"c":16,"v":0.71},{"r":29,"c":17,"v":0.71},{"r":29,"c":18,"v":0.73},{"r":29,"c":19,"v":0.76},{"r":29,"c":20,"v":0.8},{"r":29,"c":21,"v":0.84},{"r":29,"c":22,"v":0.73},{"r":29,"c":23,"v":0.73},{"r":29,"c":24,"v":0.74},{"r":29,"c":25,"v":0.76},{"r":29,"c":26,"v":0.8},{"r":29,"c":27,"v":0.85},{"r":29,"c":28,"v":0.9},{"r":29,"c":29,"v":1}
    ],
    "R": [
{"r":0,"c":0,"v":1},{"r":0,"c":1,"v":0.9},{"r":0,"c":2,"v":0.85},{"r":0,"c":3,"v":0.8},{"r":0,"c":4,"v":0.76},{"r":0,"c":5,"v":0.74},{"r":0,"c":6,"v":0.76},{"r":0,"c":7,"v":0.8},{"r":0,"c":8,"v":0.84},{"r":0,"c":9,"v":0.8},{"r":0,"c":10,"v":0.76},{"r":0,"c":11,"v":0.73},{"r":0,"c":12,"v":0.71},{"r":0,"c":13,"v":0.69},{"r":0,"c":14,"v":0.75},{"r":0,"c":15,"v":0.79},{"r":0,"c":16,"v":0.82},{"r":0,"c":17,"v":0.79},{"r":0,"c":18,"v":0.75},{"r":0,"c":19,"v":0.73},{"r":0,"c":20,"v":0.71},{"r":0,"c":21,"v":0.69},{"r":0,"c":22,"v":0.75},{"r":0,"c":23,"v":0.78},{"r":0,"c":24,"v":0.8},{"r":0,"c":25,"v":0.78},{"r":0,"c":26,"v":0.75},{"r":0,"c":27,"v":0.72},{"r":0,"c":28,"v":0.71},{"r":0,"c":29,"v":0.71},
{"r":1,"c":0,"v":0.9},{"r":1,"c":1,"v":1},{"r":1,"c":2,"v":0.9},{"r":1,"c":3,"v":0.85},{"r":1,"c":4,"v":0.8},{"r":1,"c":5,"v":0.76},{"r":1,"c":6,"v":0.73},{"r":1,"c":7,"v":0.76},{"r":1,"c":8,"v":0.8},{"r":1,"c":9,"v":0.84},{"r":1,"c":10,"v":0.8},{"r":1,"c":11,"v":0.76},{"r":1,"c":12,"v":0.73},{"r":1,"c":13,"v":0.69},{"r":1,"c":14,"v":0.73},{"r":1,"c":15,"v":0.75},{"r":1,"c":16,"v":0.79},{"r":1,"c":17,"v":0.82},{"r":1,"c":18,"v":0.79},{"r":1,"c":19,"v":0.75},{"r":1,"c":20,"v":0.73},{"r":1,"c":21,"v":0.69},{"r":1,"c":22,"v":0.72},{"r":1,"c":23,"v":0.75},{"r":1,"c":24,"v":0.78},{"r":1,"c":25,"v":0.8},{"r":1,"c":26,"v":0.78},{"r":1,"c":27,"v":0.75},{"r":1,"c":28,"v":0.22},{"r":1,"c":29,"v":0.22},
{"r":2,"c":0,"v":0.85},{"r":2,"c":1,"v":0.9},{"r":2,"c":2,"v":1},{"r":2,"c":3,"v":0.9},{"r":2,"c":4,"v":0.85},{"r":2,"c":5,"v":0.8},{"r":2,"c":6,"v":0.71},{"r":2,"c":7,"v":0.73},{"r":2,"c":8,"v":0.76},{"r":2,"c":9,"v":0.8},{"r":2,"c":10,"v":0.84},{"r":2,"c":11,"v":0.8},{"r":2,"c":12,"v":0.76},{"r":2,"c":13,"v":0.69},{"r":2,"c":14,"v":0.71},{"r":2,"c":15,"v":0.73},{"r":2,"c":16,"v":0.75},{"r":2,"c":17,"v":0.79},{"r":2,"c":18,"v":0.82},{"r":2,"c":19,"v":0.79},{"r":2,"c":20,"v":0.75},{"r":2,"c":21,"v":0.3},{"r":2,"c":22,"v":0.71},{"r":2,"c":23,"v":0.72},{"r":2,"c":24,"v":0.75},{"r":2,"c":25,"v":0.78},{"r":2,"c":26,"v":0.8},{"r":2,"c":27,"v":0.78},{"r":2,"c":28,"v":0.22},{"r":2,"c":29,"v":0.22},
{"r":3,"c":0,"v":0.8},{"r":3,"c":1,"v":0.85},{"r":3,"c":2,"v":0.9},{"r":3,"c":3,"v":1},{"r":3,"c":4,"v":0.9},{"r":3,"c":5,"v":0.85},{"r":3,"c":6,"v":0.71},{"r":3,"c":7,"v":0.71},{"r":3,"c":8,"v":0.73},{"r":3,"c":9,"v":0.76},{"r":3,"c":10,"v":0.8},{"r":3,"c":11,"v":0.84},{"r":3,"c":12,"v":0.8},{"r":3,"c":13,"v":0.69},{"r":3,"c":14,"v":0.71},{"r":3,"c":15,"v":0.71},{"r":3,"c":16,"v":0.73},{"r":3,"c":17,"v":0.75},{"r":3,"c":18,"v":0.79},{"r":3,"c":19,"v":0.82},{"r":3,"c":20,"v":0.35},{"r":3,"c":21,"v":0.25},{"r":3,"c":22,"v":0.71},{"r":3,"c":23,"v":0.71},{"r":3,"c":24,"v":0.72},{"r":3,"c":25,"v":0.75},{"r":3,"c":26,"v":0.78},{"r":3,"c":27,"v":0.8},{"r":3,"c":28,"v":0.22},{"r":3,"c":29,"v":0.22},
{"r":4,"c":0,"v":0.76},{"r":4,"c":1,"v":0.8},{"r":4,"c":2,"v":0.85},{"r":4,"c":3,"v":0.9},{"r":4,"c":4,"v":1},{"r":4,"c":5,"v":0.97},{"r":4,"c":6,"v":0.71},{"r":4,"c":7,"v":0.71},{"r":4,"c":8,"v":0.71},{"r":4,"c":9,"v":0.73},{"r":4,"c":10,"v":0.76},{"r":4,"c":11,"v":0.8},{"r":4,"c":12,"v":0.84},{"r":4,"c":13,"v":0.69},{"r":4,"c":14,"v":0.71},{"r":4,"c":15,"v":0.71},{"r":4,"c":16,"v":0.71},{"r":4,"c":17,"v":0.73},{"r":4,"c":18,"v":0.75},{"r":4,"c":19,"v":0.79},{"r":4,"c":20,"v":0.82},{"r":4,"c":21,"v":0.3},{"r":4,"c":22,"v":0.71},{"r":4,"c":23,"v":0.71},{"r":4,"c":24,"v":0.71},{"r":4,"c":25,"v":0.72},{"r":4,"c":26,"v":0.75},{"r":4,"c":27,"v":0.78},{"r":4,"c":28,"v":0.3},{"r":4,"c":29,"v":0.3},
{"r":5,"c":0,"v":0.74},{"r":5,"c":1,"v":0.76},{"r":5,"c":2,"v":0.8},{"r":5,"c":3,"v":0.85},{"r":5,"c":4,"v":0.97},{"r":5,"c":5,"v":1},{"r":5,"c":6,"v":0.71},{"r":5,"c":7,"v":0.71},{"r":5,"c":8,"v":0.71},{"r":5,"c":9,"v":0.71},{"r":5,"c":10,"v":0.73},{"r":5,"c":11,"v":0.76},{"r":5,"c":12,"v":0.8},{"r":5,"c":13,"v":0.69},{"r":5,"c":14,"v":0.71},{"r":5,"c":15,"v":0.71},{"r":5,"c":16,"v":0.71},{"r":5,"c":17,"v":0.71},{"r":5,"c":18,"v":0.73},{"r":5,"c":19,"v":0.75},{"r":5,"c":20,"v":0.79},{"r":5,"c":21,"v":0.69},{"r":5,"c":22,"v":0.71},{"r":5,"c":23,"v":0.71},{"r":5,"c":24,"v":0.71},{"r":5,"c":25,"v":0.71},{"r":5,"c":26,"v":0.72},{"r":5,"c":27,"v":0.75},{"r":5,"c":28,"v":0.78},{"r":5,"c":29,"v":0.8},
{"r":6,"c":0,"v":0.76},{"r":6,"c":1,"v":0.73},{"r":6,"c":2,"v":0.71},{"r":6,"c":3,"v":0.71},{"r":6,"c":4,"v":0.71},{"r":6,"c":5,"v":0.71},{"r":6,"c":6,"v":1},{"r":6,"c":7,"v":0.9},{"r":6,"c":8,"v":0.85},{"r":6,"c":9,"v":0.8},{"r":6,"c":10,"v":0.76},{"r":6,"c":11,"v":0.74},{"r":6,"c":12,"v":0.73},{"r":6,"c":13,"v":0.69},{"r":6,"c":14,"v":0.84},{"r":6,"c":15,"v":0.8},{"r":6,"c":16,"v":0.76},{"r":6,"c":17,"v":0.73},{"r":6,"c":18,"v":0.71},{"r":6,"c":19,"v":0.71},{"r":6,"c":20,"v":0.71},{"r":6,"c":21,"v":0.69},{"r":6,"c":22,"v":0.82},{"r":6,"c":23,"v":0.79},{"r":6,"c":24,"v":0.75},{"r":6,"c":25,"v":0.73},{"r":6,"c":26,"v":0.71},{"r":6,"c":27,"v":0.71},{"r":6,"c":28,"v":0.71},{"r":6,"c":29,"v":0.71},
{"r":7,"c":0,"v":0.8},{"r":7,"c":1,"v":0.76},{"r":7,"c":2,"v":0.73},{"r":7,"c":3,"v":0.71},{"r":7,"c":4,"v":0.71},{"r":7,"c":5,"v":0.71},{"r":7,"c":6,"v":0.9},{"r":7,"c":7,"v":1},{"r":7,"c":8,"v":0.9},{"r":7,"c":9,"v":0.85},{"r":7,"c":10,"v":0.8},{"r":7,"c":11,"v":0.76},{"r":7,"c":12,"v":0.74},{"r":7,"c":13,"v":0.69},{"r":7,"c":14,"v":0.8},{"r":7,"c":15,"v":0.84},{"r":7,"c":16,"v":0.8},{"r":7,"c":17,"v":0.76},{"r":7,"c":18,"v":0.73},{"r":7,"c":19,"v":0.71},{"r":7,"c":20,"v":0.71},{"r":7,"c":21,"v":0.69},{"r":7,"c":22,"v":0.79},{"r":7,"c":23,"v":0.82},{"r":7,"c":24,"v":0.79},{"r":7,"c":25,"v":0.75},{"r":7,"c":26,"v":0.73},{"r":7,"c":27,"v":0.71},{"r":7,"c":28,"v":0.71},{"r":7,"c":29,"v":0.71},
{"r":8,"c":0,"v":0.84},{"r":8,"c":1,"v":0.8},{"r":8,"c":2,"v":0.76},{"r":8,"c":3,"v":0.73},{"r":8,"c":4,"v":0.71},{"r":8,"c":5,"v":0.71},{"r":8,"c":6,"v":0.85},{"r":8,"c":7,"v":0.9},{"r":8,"c":8,"v":1},{"r":8,"c":9,"v":0.9},{"r":8,"c":10,"v":0.85},{"r":8,"c":11,"v":0.8},{"r":8,"c":12,"v":0.76},{"r":8,"c":13,"v":0.69},{"r":8,"c":14,"v":0.76},{"r":8,"c":15,"v":0.8},{"r":8,"c":16,"v":0.84},{"r":8,"c":17,"v":0.8},{"r":8,"c":18,"v":0.76},{"r":8,"c":19,"v":0.73},{"r":8,"c":20,"v":0.71},{"r":8,"c":21,"v":0.69},{"r":8,"c":22,"v":0.75},{"r":8,"c":23,"v":0.79},{"r":8,"c":24,"v":0.82},{"r":8,"c":25,"v":0.79},{"r":8,"c":26,"v":0.75},{"r":8,"c":27,"v":0.73},{"r":8,"c":28,"v":0.71},{"r":8,"c":29,"v":0.71},
{"r":9,"c":0,"v":0.8},{"r":9,"c":1,"v":0.84},{"r":9,"c":2,"v":0.8},{"r":9,"c":3,"v":0.76},{"r":9,"c":4,"v":0.73},{"r":9,"c":5,"v":0.71},{"r":9,"c":6,"v":0.8},{"r":9,"c":7,"v":0.85},{"r":9,"c":8,"v":0.9},{"r":9,"c":9,"v":1},{"r":9,"c":10,"v":0.9},{"r":9,"c":11,"v":0.85},{"r":9,"c":12,"v":0.8},{"r":9,"c":13,"v":0.69},{"r":9,"c":14,"v":0.73},{"r":9,"c":15,"v":0.76},{"r":9,"c":16,"v":0.8},{"r":9,"c":17,"v":0.84},{"r":9,"c":18,"v":0.8},{"r":9,"c":19,"v":0.76},{"r":9,"c":20,"v":0.73},{"r":9,"c":21,"v":0.69},{"r":9,"c":22,"v":0.73},{"r":9,"c":23,"v":0.75},{"r":9,"c":24,"v":0.79},{"r":9,"c":25,"v":0.82},{"r":9,"c":26,"v":0.79},{"r":9,"c":27,"v":0.75},{"r":9,"c":28,"v":0.73},{"r":9,"c":29,"v":0.71},
{"r":10,"c":0,"v":0.76},{"r":10,"c":1,"v":0.8},{"r":10,"c":2,"v":0.84},{"r":10,"c":3,"v":0.8},{"r":10,"c":4,"v":0.76},{"r":10,"c":5,"v":0.73},{"r":10,"c":6,"v":0.76},{"r":10,"c":7,"v":0.8},{"r":10,"c":8,"v":0.85},{"r":10,"c":9,"v":0.9},{"r":10,"c":10,"v":1},{"r":10,"c":11,"v":0.9},{"r":10,"c":12,"v":0.85},{"r":10,"c":13,"v":0.69},{"r":10,"c":14,"v":0.71},{"r":10,"c":15,"v":0.73},{"r":10,"c":16,"v":0.76},{"r":10,"c":17,"v":0.8},{"r":10,"c":18,"v":0.84},{"r":10,"c":19,"v":0.8},{"r":10,"c":20,"v":0.76},{"r":10,"c":21,"v":0.69},{"r":10,"c":22,"v":0.71},{"r":10,"c":23,"v":0.73},{"r":10,"c":24,"v":0.75},{"r":10,"c":25,"v":0.79},{"r":10,"c":26,"v":0.82},{"r":10,"c":27,"v":0.79},{"r":10,"c":28,"v":0.75},{"r":10,"c":29,"v":0.73},
{"r":11,"c":0,"v":0.73},{"r":11,"c":1,"v":0.76},{"r":11,"c":2,"v":0.8},{"r":11,"c":3,"v":0.84},{"r":11,"c":4,"v":0.8},{"r":11,"c":5,"v":0.76},{"r":11,"c":6,"v":0.74},{"r":11,"c":7,"v":0.76},{"r":11,"c":8,"v":0.8},{"r":11,"c":9,"v":0.85},{"r":11,"c":10,"v":0.9},{"r":11,"c":11,"v":1},{"r":11,"c":12,"v":0.9},{"r":11,"c":13,"v":0.69},{"r":11,"c":14,"v":0.71},{"r":11,"c":15,"v":0.71},{"r":11,"c":16,"v":0.73},{"r":11,"c":17,"v":0.76},{"r":11,"c":18,"v":0.8},{"r":11,"c":19,"v":0.84},{"r":11,"c":20,"v":0.8},{"r":11,"c":21,"v":0.69},{"r":11,"c":22,"v":0.71},{"r":11,"c":23,"v":0.71},{"r":11,"c":24,"v":0.73},{"r":11,"c":25,"v":0.75},{"r":11,"c":26,"v":0.79},{"r":11,"c":27,"v":0.82},{"r":11,"c":28,"v":0.79},{"r":11,"c":29,"v":0.75},
{"r":12,"c":0,"v":0.71},{"r":12,"c":1,"v":0.73},{"r":12,"c":2,"v":0.76},{"r":12,"c":3,"v":0.8},{"r":12,"c":4,"v":0.84},{"r":12,"c":5,"v":0.8},{"r":12,"c":6,"v":0.73},{"r":12,"c":7,"v":0.74},{"r":12,"c":8,"v":0.76},{"r":12,"c":9,"v":0.8},{"r":12,"c":10,"v":0.85},{"r":12,"c":11,"v":0.9},{"r":12,"c":12,"v":1},{"r":12,"c":13,"v":0.9},{"r":12,"c":14,"v":0.71},{"r":12,"c":15,"v":0.71},{"r":12,"c":16,"v":0.71},{"r":12,"c":17,"v":0.73},{"r":12,"c":18,"v":0.76},{"r":12,"c":19,"v":0.8},{"r":12,"c":20,"v":0.84},{"r":12,"c":21,"v":0.69},{"r":12,"c":22,"v":0.71},{"r":12,"c":23,"v":0.71},{"r":12,"c":24,"v":0.71},{"r":12,"c":25,"v":0.73},{"r":12,"c":26,"v":0.75},{"r":12,"c":27,"v":0.79},{"r":12,"c":28,"v":0.82},{"r":12,"c":29,"v":0.79},
{"r":13,"c":0,"v":0.69},{"r":13,"c":1,"v":0.69},{"r":13,"c":2,"v":0.69},{"r":13,"c":3,"v":0.69},{"r":13,"c":4,"v":0.69},{"r":13,"c":5,"v":0.69},{"r":13,"c":6,"v":0.69},{"r":13,"c":7,"v":0.69},{"r":13,"c":8,"v":0.69},{"r":13,"c":9,"v":0.69},{"r":13,"c":10,"v":0.69},{"r":13,"c":11,"v":0.69},{"r":13,"c":12,"v":0.9},{"r":13,"c":13,"v":1},{"r":13,"c":14,"v":0.71},{"r":13,"c":15,"v":0.69},{"r":13,"c":16,"v":0.69},{"r":13,"c":17,"v":0.69},{"r":13,"c":18,"v":0.69},{"r":13,"c":19,"v":0.69},{"r":13,"c":20,"v":0.69},{"r":13,"c":21,"v":0.69},{"r":13,"c":22,"v":0.69},{"r":13,"c":23,"v":0.69},{"r":13,"c":24,"v":0.69},{"r":13,"c":25,"v":0.69},{"r":13,"c":26,"v":0.69},{"r":13,"c":27,"v":0.69},{"r":13,"c":28,"v":0.69},{"r":13,"c":29,"v":0.69},
{"r":14,"c":0,"v":0.75},{"r":14,"c":1,"v":0.73},{"r":14,"c":2,"v":0.71},{"r":14,"c":3,"v":0.71},{"r":14,"c":4,"v":0.71},{"r":14,"c":5,"v":0.71},{"r":14,"c":6,"v":0.84},{"r":14,"c":7,"v":0.8},{"r":14,"c":8,"v":0.76},{"r":14,"c":9,"v":0.73},{"r":14,"c":10,"v":0.71},{"r":14,"c":11,"v":0.71},{"r":14,"c":12,"v":0.71},{"r":14,"c":13,"v":0.71},{"r":14,"c":14,"v":1},{"r":14,"c":15,"v":0.9},{"r":14,"c":16,"v":0.85},{"r":14,"c":17,"v":0.8},{"r":14,"c":18,"v":0.76},{"r":14,"c":19,"v":0.74},{"r":14,"c":20,"v":0.73},{"r":14,"c":21,"v":0.69},{"r":14,"c":22,"v":0.84},{"r":14,"c":23,"v":0.8},{"r":14,"c":24,"v":0.76},{"r":14,"c":25,"v":0.73},{"r":14,"c":26,"v":0.71},{"r":14,"c":27,"v":0.71},{"r":14,"c":28,"v":0.71},{"r":14,"c":29,"v":0.71},
{"r":15,"c":0,"v":0.79},{"r":15,"c":1,"v":0.75},{"r":15,"c":2,"v":0.73},{"r":15,"c":3,"v":0.71},{"r":15,"c":4,"v":0.71},{"r":15,"c":5,"v":0.71},{"r":15,"c":6,"v":0.8},{"r":15,"c":7,"v":0.84},{"r":15,"c":8,"v":0.8},{"r":15,"c":9,"v":0.76},{"r":15,"c":10,"v":0.73},{"r":15,"c":11,"v":0.71},{"r":15,"c":12,"v":0.71},{"r":15,"c":13,"v":0.69},{"r":15,"c":14,"v":0.9},{"r":15,"c":15,"v":1},{"r":15,"c":16,"v":0.9},{"r":15,"c":17,"v":0.85},{"r":15,"c":18,"v":0.8},{"r":15,"c":19,"v":0.76},{"r":15,"c":20,"v":0.74},{"r":15,"c":21,"v":0.69},{"r":15,"c":22,"v":0.8},{"r":15,"c":23,"v":0.84},{"r":15,"c":24,"v":0.8},{"r":15,"c":25,"v":0.76},{"r":15,"c":26,"v":0.73},{"r":15,"c":27,"v":0.71},{"r":15,"c":28,"v":0.71},{"r":15,"c":29,"v":0.71},
{"r":16,"c":0,"v":0.82},{"r":16,"c":1,"v":0.79},{"r":16,"c":2,"v":0.75},{"r":16,"c":3,"v":0.73},{"r":16,"c":4,"v":0.71},{"r":16,"c":5,"v":0.71},{"r":16,"c":6,"v":0.76},{"r":16,"c":7,"v":0.8},{"r":16,"c":8,"v":0.84},{"r":16,"c":9,"v":0.8},{"r":16,"c":10,"v":0.76},{"r":16,"c":11,"v":0.73},{"r":16,"c":12,"v":0.71},{"r":16,"c":13,"v":0.69},{"r":16,"c":14,"v":0.85},{"r":16,"c":15,"v":0.9},{"r":16,"c":16,"v":1},{"r":16,"c":17,"v":0.9},{"r":16,"c":18,"v":0.85},{"r":16,"c":19,"v":0.8},{"r":16,"c":20,"v":0.76},{"r":16,"c":21,"v":0.69},{"r":16,"c":22,"v":0.76},{"r":16,"c":23,"v":0.8},{"r":16,"c":24,"v":0.84},{"r":16,"c":25,"v":0.8},{"r":16,"c":26,"v":0.76},{"r":16,"c":27,"v":0.73},{"r":16,"c":28,"v":0.71},{"r":16,"c":29,"v":0.71},
{"r":17,"c":0,"v":0.79},{"r":17,"c":1,"v":0.82},{"r":17,"c":2,"v":0.79},{"r":17,"c":3,"v":0.75},{"r":17,"c":4,"v":0.73},{"r":17,"c":5,"v":0.71},{"r":17,"c":6,"v":0.73},{"r":17,"c":7,"v":0.76},{"r":17,"c":8,"v":0.8},{"r":17,"c":9,"v":0.84},{"r":17,"c":10,"v":0.8},{"r":17,"c":11,"v":0.76},{"r":17,"c":12,"v":0.73},{"r":17,"c":13,"v":0.69},{"r":17,"c":14,"v":0.8},{"r":17,"c":15,"v":0.85},{"r":17,"c":16,"v":0.9},{"r":17,"c":17,"v":1},{"r":17,"c":18,"v":0.9},{"r":17,"c":19,"v":0.85},{"r":17,"c":20,"v":0.8},{"r":17,"c":21,"v":0.69},{"r":17,"c":22,"v":0.73},{"r":17,"c":23,"v":0.76},{"r":17,"c":24,"v":0.8},{"r":17,"c":25,"v":0.84},{"r":17,"c":26,"v":0.8},{"r":17,"c":27,"v":0.76},{"r":17,"c":28,"v":0.73},{"r":17,"c":29,"v":0.71},
{"r":18,"c":0,"v":0.75},{"r":18,"c":1,"v":0.79},{"r":18,"c":2,"v":0.82},{"r":18,"c":3,"v":0.79},{"r":18,"c":4,"v":0.75},{"r":18,"c":5,"v":0.73},{"r":18,"c":6,"v":0.71},{"r":18,"c":7,"v":0.73},{"r":18,"c":8,"v":0.76},{"r":18,"c":9,"v":0.8},{"r":18,"c":10,"v":0.84},{"r":18,"c":11,"v":0.8},{"r":18,"c":12,"v":0.76},{"r":18,"c":13,"v":0.69},{"r":18,"c":14,"v":0.76},{"r":18,"c":15,"v":0.8},{"r":18,"c":16,"v":0.85},{"r":18,"c":17,"v":0.9},{"r":18,"c":18,"v":1},{"r":18,"c":19,"v":0.9},{"r":18,"c":20,"v":0.85},{"r":18,"c":21,"v":0.69},{"r":18,"c":22,"v":0.71},{"r":18,"c":23,"v":0.73},{"r":18,"c":24,"v":0.76},{"r":18,"c":25,"v":0.8},{"r":18,"c":26,"v":0.84},{"r":18,"c":27,"v":0.8},{"r":18,"c":28,"v":0.76},{"r":18,"c":29,"v":0.73},
{"r":19,"c":0,"v":0.73},{"r":19,"c":1,"v":0.75},{"r":19,"c":2,"v":0.79},{"r":19,"c":3,"v":0.82},{"r":19,"c":4,"v":0.79},{"r":19,"c":5,"v":0.75},{"r":19,"c":6,"v":0.71},{"r":19,"c":7,"v":0.71},{"r":19,"c":8,"v":0.73},{"r":19,"c":9,"v":0.76},{"r":19,"c":10,"v":0.8},{"r":19,"c":11,"v":0.84},{"r":19,"c":12,"v":0.8},{"r":19,"c":13,"v":0.69},{"r":19,"c":14,"v":0.74},{"r":19,"c":15,"v":0.76},{"r":19,"c":16,"v":0.8},{"r":19,"c":17,"v":0.85},{"r":19,"c":18,"v":0.9},{"r":19,"c":19,"v":1},{"r":19,"c":20,"v":0.9},{"r":19,"c":21,"v":0.69},{"r":19,"c":22,"v":0.71},{"r":19,"c":23,"v":0.71},{"r":19,"c":24,"v":0.73},{"r":19,"c":25,"v":0.76},{"r":19,"c":26,"v":0.8},{"r":19,"c":27,"v":0.84},{"r":19,"c":28,"v":0.8},{"r":19,"c":29,"v":0.76},
{"r":20,"c":0,"v":0.71},{"r":20,"c":1,"v":0.73},{"r":20,"c":2,"v":0.75},{"r":20,"c":3,"v":0.35},{"r":20,"c":4,"v":0.82},{"r":20,"c":5,"v":0.79},{"r":20,"c":6,"v":0.71},{"r":20,"c":7,"v":0.71},{"r":20,"c":8,"v":0.71},{"r":20,"c":9,"v":0.73},{"r":20,"c":10,"v":0.76},{"r":20,"c":11,"v":0.8},{"r":20,"c":12,"v":0.84},{"r":20,"c":13,"v":0.69},{"r":20,"c":14,"v":0.73},{"r":20,"c":15,"v":0.74},{"r":20,"c":16,"v":0.76},{"r":20,"c":17,"v":0.8},{"r":20,"c":18,"v":0.85},{"r":20,"c":19,"v":0.9},{"r":20,"c":20,"v":1},{"r":20,"c":21,"v":0.9},{"r":20,"c":22,"v":0.71},{"r":20,"c":23,"v":0.71},{"r":20,"c":24,"v":0.71},{"r":20,"c":25,"v":0.73},{"r":20,"c":26,"v":0.76},{"r":20,"c":27,"v":0.8},{"r":20,"c":28,"v":0.84},{"r":20,"c":29,"v":0.8},
{"r":21,"c":0,"v":0.69},{"r":21,"c":1,"v":0.69},{"r":21,"c":2,"v":0.3},{"r":21,"c":3,"v":0.25},{"r":21,"c":4,"v":0.3},{"r":21,"c":5,"v":0.69},{"r":21,"c":6,"v":0.69},{"r":21,"c":7,"v":0.69},{"r":21,"c":8,"v":0.69},{"r":21,"c":9,"v":0.69},{"r":21,"c":10,"v":0.69},{"r":21,"c":11,"v":0.69},{"r":21,"c":12,"v":0.69},{"r":21,"c":13,"v":0.69},{"r":21,"c":14,"v":0.69},{"r":21,"c":15,"v":0.69},{"r":21,"c":16,"v":0.69},{"r":21,"c":17,"v":0.69},{"r":21,"c":18,"v":0.69},{"r":21,"c":19,"v":0.69},{"r":21,"c":20,"v":0.9},{"r":21,"c":21,"v":1},{"r":21,"c":22,"v":0.71},{"r":21,"c":23,"v":0.69},{"r":21,"c":24,"v":0.69},{"r":21,"c":25,"v":0.69},{"r":21,"c":26,"v":0.69},{"r":21,"c":27,"v":0.69},{"r":21,"c":28,"v":0.69},{"r":21,"c":29,"v":0.69},
{"r":22,"c":0,"v":0.75},{"r":22,"c":1,"v":0.72},{"r":22,"c":2,"v":0.71},{"r":22,"c":3,"v":0.71},{"r":22,"c":4,"v":0.71},{"r":22,"c":5,"v":0.71},{"r":22,"c":6,"v":0.82},{"r":22,"c":7,"v":0.79},{"r":22,"c":8,"v":0.75},{"r":22,"c":9,"v":0.73},{"r":22,"c":10,"v":0.71},{"r":22,"c":11,"v":0.71},{"r":22,"c":12,"v":0.71},{"r":22,"c":13,"v":0.69},{"r":22,"c":14,"v":0.84},{"r":22,"c":15,"v":0.8},{"r":22,"c":16,"v":0.76},{"r":22,"c":17,"v":0.73},{"r":22,"c":18,"v":0.71},{"r":22,"c":19,"v":0.71},{"r":22,"c":20,"v":0.71},{"r":22,"c":21,"v":0.71},{"r":22,"c":22,"v":1},{"r":22,"c":23,"v":0.9},{"r":22,"c":24,"v":0.85},{"r":22,"c":25,"v":0.8},{"r":22,"c":26,"v":0.76},{"r":22,"c":27,"v":0.74},{"r":22,"c":28,"v":0.73},{"r":22,"c":29,"v":0.73},
{"r":23,"c":0,"v":0.78},{"r":23,"c":1,"v":0.75},{"r":23,"c":2,"v":0.72},{"r":23,"c":3,"v":0.71},{"r":23,"c":4,"v":0.71},{"r":23,"c":5,"v":0.71},{"r":23,"c":6,"v":0.79},{"r":23,"c":7,"v":0.82},{"r":23,"c":8,"v":0.79},{"r":23,"c":9,"v":0.75},{"r":23,"c":10,"v":0.73},{"r":23,"c":11,"v":0.71},{"r":23,"c":12,"v":0.71},{"r":23,"c":13,"v":0.69},{"r":23,"c":14,"v":0.8},{"r":23,"c":15,"v":0.84},{"r":23,"c":16,"v":0.8},{"r":23,"c":17,"v":0.76},{"r":23,"c":18,"v":0.73},{"r":23,"c":19,"v":0.71},{"r":23,"c":20,"v":0.71},{"r":23,"c":21,"v":0.69},{"r":23,"c":22,"v":0.9},{"r":23,"c":23,"v":1},{"r":23,"c":24,"v":0.9},{"r":23,"c":25,"v":0.85},{"r":23,"c":26,"v":0.8},{"r":23,"c":27,"v":0.76},{"r":23,"c":28,"v":0.74},{"r":23,"c":29,"v":0.73},
{"r":24,"c":0,"v":0.8},{"r":24,"c":1,"v":0.78},{"r":24,"c":2,"v":0.75},{"r":24,"c":3,"v":0.72},{"r":24,"c":4,"v":0.71},{"r":24,"c":5,"v":0.71},{"r":24,"c":6,"v":0.75},{"r":24,"c":7,"v":0.79},{"r":24,"c":8,"v":0.82},{"r":24,"c":9,"v":0.79},{"r":24,"c":10,"v":0.75},{"r":24,"c":11,"v":0.73},{"r":24,"c":12,"v":0.71},{"r":24,"c":13,"v":0.69},{"r":24,"c":14,"v":0.76},{"r":24,"c":15,"v":0.8},{"r":24,"c":16,"v":0.84},{"r":24,"c":17,"v":0.8},{"r":24,"c":18,"v":0.76},{"r":24,"c":19,"v":0.73},{"r":24,"c":20,"v":0.71},{"r":24,"c":21,"v":0.69},{"r":24,"c":22,"v":0.85},{"r":24,"c":23,"v":0.9},{"r":24,"c":24,"v":1},{"r":24,"c":25,"v":0.9},{"r":24,"c":26,"v":0.85},{"r":24,"c":27,"v":0.8},{"r":24,"c":28,"v":0.76},{"r":24,"c":29,"v":0.74},
{"r":25,"c":0,"v":0.78},{"r":25,"c":1,"v":0.8},{"r":25,"c":2,"v":0.78},{"r":25,"c":3,"v":0.75},{"r":25,"c":4,"v":0.72},{"r":25,"c":5,"v":0.71},{"r":25,"c":6,"v":0.73},{"r":25,"c":7,"v":0.75},{"r":25,"c":8,"v":0.79},{"r":25,"c":9,"v":0.82},{"r":25,"c":10,"v":0.79},{"r":25,"c":11,"v":0.75},{"r":25,"c":12,"v":0.73},{"r":25,"c":13,"v":0.69},{"r":25,"c":14,"v":0.73},{"r":25,"c":15,"v":0.76},{"r":25,"c":16,"v":0.8},{"r":25,"c":17,"v":0.84},{"r":25,"c":18,"v":0.8},{"r":25,"c":19,"v":0.76},{"r":25,"c":20,"v":0.73},{"r":25,"c":21,"v":0.69},{"r":25,"c":22,"v":0.8},{"r":25,"c":23,"v":0.85},{"r":25,"c":24,"v":0.9},{"r":25,"c":25,"v":1},{"r":25,"c":26,"v":0.9},{"r":25,"c":27,"v":0.85},{"r":25,"c":28,"v":0.8},{"r":25,"c":29,"v":0.76},
{"r":26,"c":0,"v":0.75},{"r":26,"c":1,"v":0.78},{"r":26,"c":2,"v":0.8},{"r":26,"c":3,"v":0.78},{"r":26,"c":4,"v":0.75},{"r":26,"c":5,"v":0.72},{"r":26,"c":6,"v":0.71},{"r":26,"c":7,"v":0.73},{"r":26,"c":8,"v":0.75},{"r":26,"c":9,"v":0.79},{"r":26,"c":10,"v":0.82},{"r":26,"c":11,"v":0.79},{"r":26,"c":12,"v":0.75},{"r":26,"c":13,"v":0.69},{"r":26,"c":14,"v":0.71},{"r":26,"c":15,"v":0.73},{"r":26,"c":16,"v":0.76},{"r":26,"c":17,"v":0.8},{"r":26,"c":18,"v":0.84},{"r":26,"c":19,"v":0.8},{"r":26,"c":20,"v":0.76},{"r":26,"c":21,"v":0.69},{"r":26,"c":22,"v":0.76},{"r":26,"c":23,"v":0.8},{"r":26,"c":24,"v":0.85},{"r":26,"c":25,"v":0.9},{"r":26,"c":26,"v":1},{"r":26,"c":27,"v":0.9},{"r":26,"c":28,"v":0.85},{"r":26,"c":29,"v":0.8},
{"r":27,"c":0,"v":0.72},{"r":27,"c":1,"v":0.75},{"r":27,"c":2,"v":0.78},{"r":27,"c":3,"v":0.8},{"r":27,"c":4,"v":0.78},{"r":27,"c":5,"v":0.75},{"r":27,"c":6,"v":0.71},{"r":27,"c":7,"v":0.71},{"r":27,"c":8,"v":0.73},{"r":27,"c":9,"v":0.75},{"r":27,"c":10,"v":0.79},{"r":27,"c":11,"v":0.82},{"r":27,"c":12,"v":0.79},{"r":27,"c":13,"v":0.69},{"r":27,"c":14,"v":0.71},{"r":27,"c":15,"v":0.71},{"r":27,"c":16,"v":0.73},{"r":27,"c":17,"v":0.76},{"r":27,"c":18,"v":0.8},{"r":27,"c":19,"v":0.84},{"r":27,"c":20,"v":0.8},{"r":27,"c":21,"v":0.69},{"r":27,"c":22,"v":0.74},{"r":27,"c":23,"v":0.76},{"r":27,"c":24,"v":0.8},{"r":27,"c":25,"v":0.85},{"r":27,"c":26,"v":0.9},{"r":27,"c":27,"v":1},{"r":27,"c":28,"v":0.9},{"r":27,"c":29,"v":0.85},
{"r":28,"c":0,"v":0.71},{"r":28,"c":1,"v":0.22},{"r":28,"c":2,"v":0.22},{"r":28,"c":3,"v":0.22},{"r":28,"c":4,"v":0.3},{"r":28,"c":5,"v":0.78},{"r":28,"c":6,"v":0.71},{"r":28,"c":7,"v":0.71},{"r":28,"c":8,"v":0.71},{"r":28,"c":9,"v":0.73},{"r":28,"c":10,"v":0.75},{"r":28,"c":11,"v":0.79},{"r":28,"c":12,"v":0.82},{"r":28,"c":13,"v":0.69},{"r":28,"c":14,"v":0.71},{"r":28,"c":15,"v":0.71},{"r":28,"c":16,"v":0.71},{"r":28,"c":17,"v":0.73},{"r":28,"c":18,"v":0.76},{"r":28,"c":19,"v":0.8},{"r":28,"c":20,"v":0.84},{"r":28,"c":21,"v":0.69},{"r":28,"c":22,"v":0.73},{"r":28,"c":23,"v":0.74},{"r":28,"c":24,"v":0.76},{"r":28,"c":25,"v":0.8},{"r":28,"c":26,"v":0.85},{"r":28,"c":27,"v":0.9},{"r":28,"c":28,"v":1},{"r":28,"c":29,"v":0.9},
{"r":29,"c":0,"v":0.71},{"r":29,"c":1,"v":0.22},{"r":29,"c":2,"v":0.22},{"r":29,"c":3,"v":0.22},{"r":29,"c":4,"v":0.3},{"r":29,"c":5,"v":0.8},{"r":29,"c":6,"v":0.71},{"r":29,"c":7,"v":0.71},{"r":29,"c":8,"v":0.71},{"r":29,"c":9,"v":0.71},{"r":29,"c":10,"v":0.73},{"r":29,"c":11,"v":0.75},{"r":29,"c":12,"v":0.79},{"r":29,"c":13,"v":0.69},{"r":29,"c":14,"v":0.71},{"r":29,"c":15,"v":0.71},{"r":29,"c":16,"v":0.71},{"r":29,"c":17,"v":0.71},{"r":29,"c":18,"v":0.73},{"r":29,"c":19,"v":0.76},{"r":29,"c":20,"v":0.8},{"r":29,"c":21,"v":0.69},{"r":29,"c":22,"v":0.73},{"r":29,"c":23,"v":0.73},{"r":29,"c":24,"v":0.74},{"r":29,"c":25,"v":0.76},{"r":29,"c":26,"v":0.8},{"r":29,"c":27,"v":0.85},{"r":29,"c":28,"v":0.9},{"r":29,"c":29,"v":1}
    ]
  },
  "concat": [
    {
      "width": 254, "height": 178.5,
      "title": {"text": "left events: N(μ=5.7, σ=19.6)", "fontSize": 21.5, "fontWeight": "normal", "offset": 12},
      "layer": [
        {
          "data": {"values": [
            {"b0":-56.2,"b1":-52.39,"n":0.5,"s":"C3"},{"b0":-52.39,"b1":-48.58,"n":0.5,"s":"C3"},{"b0":-48.58,"b1":-44.76,"n":1,"s":"C3"},{"b0":-44.76,"b1":-40.95,"n":1,"s":"C3"},
            {"b0":-40.95,"b1":-37.14,"n":2,"s":"C3"},{"b0":-37.14,"b1":-33.33,"n":2.7,"s":"C3"},{"b0":-33.33,"b1":-29.51,"n":4.8,"s":"C3"},{"b0":-29.51,"b1":-25.7,"n":6.2,"s":"C3"},
            {"b0":-25.7,"b1":-21.89,"n":10.6,"s":"C3"},{"b0":-21.89,"b1":-18.08,"n":19,"s":"C3"},{"b0":-18.08,"b1":-14.26,"n":19,"s":"C3"},{"b0":-14.26,"b1":-10.45,"n":22,"s":"C3"},
            {"b0":-10.45,"b1":-6.64,"n":31,"s":"C3"},{"b0":-6.64,"b1":-2.83,"n":42,"s":"C3"},{"b0":-2.83,"b1":0.99,"n":32,"s":"C3"},{"b0":0.99,"b1":4.8,"n":46,"s":"C3"},
            {"b0":4.8,"b1":8.61,"n":45,"s":"C3"},{"b0":8.61,"b1":12.43,"n":40,"s":"C3"},{"b0":12.43,"b1":16.24,"n":38,"s":"C3"},{"b0":16.24,"b1":20.05,"n":32,"s":"C3"},
            {"b0":20.05,"b1":23.86,"n":20,"s":"C3"},{"b0":23.86,"b1":27.68,"n":16.5,"s":"C3"},{"b0":27.68,"b1":31.49,"n":23,"s":"C3"},{"b0":31.49,"b1":35.3,"n":13,"s":"C3"},
            {"b0":35.3,"b1":39.11,"n":6.7,"s":"C3"},{"b0":39.11,"b1":42.93,"n":9.8,"s":"C3"},{"b0":42.93,"b1":46.74,"n":3.9,"s":"C3"},{"b0":46.74,"b1":50.55,"n":3,"s":"C3"},
            {"b0":50.55,"b1":54.36,"n":1.5,"s":"C3"},{"b0":54.36,"b1":58.18,"n":1,"s":"C3"},{"b0":58.18,"b1":61.99,"n":0.5,"s":"C3"},{"b0":61.99,"b1":65.8,"n":3.8,"s":"C3"}
          ]},
          "mark": {"type": "rect", "stroke": "#333", "strokeWidth": 1.3, "clip": true},
          "encoding": {
            "x": {"field": "b0", "type": "quantitative", "scale": {"domain": [-56.2, 65.8], "nice": false, "zero": false},
                  "axis": {"values": [-50, 0, 50], "title": null, "grid": false, "domain": false, "tickSize": -4, "labelFontSize": 21, "labelPadding": 8}},
            "x2": {"field": "b1"},
            "y": {"field": "n", "type": "quantitative", "scale": {"domain": [0, 50], "nice": false},
                  "axis": {"values": [0, 20, 40], "title": null, "grid": false, "domain": false, "tickSize": -4, "labelFontSize": 21, "labelPadding": 11}},
            "y2": {"datum": 0},
            "fill": {"field": "s", "type": "nominal", "scale": {"range": ["#f6f6f6"]},
                     "legend": {"title": null, "orient": "none", "legendX": 137, "legendY": 11, "symbolType": "M-1.6,-0.8H1.6V0.8H-1.6Z", "symbolSize": 576,
                                "symbolStrokeColor": "#333", "symbolStrokeWidth": 1.2, "symbolOffset": 16, "labelOffset": 21, "labelFontSize": 21, "labelColor": "black",
                                "labelExpr": "datum.label + '\u2002\u2009'",
                                "padding": 3, "strokeColor": "#333", "fillColor": "white"}}
          }
        },
        {
          "data": {"values": [
            {"x":-56,"y":0.28},{"x":-52,"y":0.53},{"x":-48,"y":0.94},{"x":-44,"y":1.61},{"x":-40,"y":2.64},{"x":-36,"y":4.16},{"x":-32,"y":6.29},{"x":-28,"y":9.12},
            {"x":-24,"y":12.69},{"x":-20,"y":16.93},{"x":-16,"y":21.67},{"x":-12,"y":26.6},{"x":-8,"y":31.33},{"x":-4,"y":35.39},{"x":0,"y":38.34},{"x":4,"y":39.85},
            {"x":5.7,"y":40},{"x":8,"y":39.73},{"x":12,"y":37.99},{"x":16,"y":34.84},{"x":20,"y":30.65},{"x":24,"y":25.87},{"x":28,"y":20.94},{"x":32,"y":16.26},
            {"x":36,"y":12.11},{"x":40,"y":8.65},{"x":44,"y":5.93},{"x":48,"y":3.9},{"x":52,"y":2.46},{"x":56,"y":1.49},{"x":60,"y":0.86},{"x":64,"y":0.48}
          ]},
          "mark": {"type": "line", "color": "black", "strokeWidth": 3.8, "interpolate": "monotone", "clip": true},
          "encoding": {
            "x": {"field": "x", "type": "quantitative", "axis": {"values": [-50, 0, 50], "labels": false, "title": null, "grid": false, "domain": false, "tickSize": -4}},
            "y": {"field": "y", "type": "quantitative", "axis": {"values": [0, 20, 40], "labels": false, "title": null, "grid": false, "domain": false, "tickSize": -4}}
          }
        }
      ],
      "resolve": {"axis": {"x": "independent", "y": "independent"}}
    },
    {
      "width": 253, "height": 178.5,
      "title": {"text": "right events: N(μ=3.9, σ=20.0)", "fontSize": 21.5, "fontWeight": "normal", "offset": 12},
      "layer": [
        {
          "data": {"values": [
            {"b0":-55.8,"b1":-52.0,"n":2.7,"s":"C3"},{"b0":-52.0,"b1":-48.19,"n":1,"s":"C3"},{"b0":-48.19,"b1":-44.39,"n":0.8,"s":"C3"},{"b0":-44.39,"b1":-40.59,"n":1.5,"s":"C3"},
            {"b0":-40.59,"b1":-36.79,"n":2.7,"s":"C3"},{"b0":-36.79,"b1":-32.98,"n":4.6,"s":"C3"},{"b0":-32.98,"b1":-29.18,"n":4.8,"s":"C3"},{"b0":-29.18,"b1":-25.38,"n":11,"s":"C3"},
            {"b0":-25.38,"b1":-21.57,"n":13,"s":"C3"},{"b0":-21.57,"b1":-17.77,"n":19,"s":"C3"},{"b0":-17.77,"b1":-13.97,"n":25,"s":"C3"},{"b0":-13.97,"b1":-10.16,"n":35,"s":"C3"},
            {"b0":-10.16,"b1":-6.36,"n":35,"s":"C3"},{"b0":-6.36,"b1":-2.56,"n":34,"s":"C3"},{"b0":-2.56,"b1":1.25,"n":39,"s":"C3"},{"b0":1.25,"b1":5.05,"n":47,"s":"C3"},
            {"b0":5.05,"b1":8.85,"n":44,"s":"C3"},{"b0":8.85,"b1":12.65,"n":53,"s":"C3"},{"b0":12.65,"b1":16.46,"n":40,"s":"C3"},{"b0":16.46,"b1":20.26,"n":26,"s":"C3"},
            {"b0":20.26,"b1":24.06,"n":24,"s":"C3"},{"b0":24.06,"b1":27.87,"n":25,"s":"C3"},{"b0":27.87,"b1":31.67,"n":20,"s":"C3"},{"b0":31.67,"b1":35.47,"n":6.7,"s":"C3"},
            {"b0":35.47,"b1":39.28,"n":6.7,"s":"C3"},{"b0":39.28,"b1":43.08,"n":4,"s":"C3"},{"b0":43.08,"b1":46.88,"n":4.8,"s":"C3"},{"b0":46.88,"b1":50.68,"n":2,"s":"C3"},
            {"b0":50.68,"b1":54.49,"n":1,"s":"C3"},{"b0":54.49,"b1":58.29,"n":0.6,"s":"C3"},{"b0":58.29,"b1":62.09,"n":0.3,"s":"C3"},{"b0":62.09,"b1":65.9,"n":3.8,"s":"C3"}
          ]},
          "mark": {"type": "rect", "stroke": "#333", "strokeWidth": 1.3, "clip": true},
          "encoding": {
            "x": {"field": "b0", "type": "quantitative", "scale": {"domain": [-55.8, 65.9], "nice": false, "zero": false},
                  "axis": {"values": [-50, 0, 50], "title": null, "grid": false, "domain": false, "tickSize": -4, "labelFontSize": 21, "labelPadding": 8}},
            "x2": {"field": "b1"},
            "y": {"field": "n", "type": "quantitative", "scale": {"domain": [0, 50], "nice": false},
                  "axis": {"values": [0, 20, 40], "title": null, "grid": false, "domain": false, "tickSize": -4, "labelFontSize": 21, "labelPadding": 11}},
            "y2": {"datum": 0},
            "fill": {"field": "s", "type": "nominal", "scale": {"range": ["#f6f6f6"]},
                     "legend": {"title": null, "orient": "none", "legendX": 138, "legendY": 12, "symbolType": "M-1.6,-0.8H1.6V0.8H-1.6Z", "symbolSize": 576,
                                "symbolStrokeColor": "#333", "symbolStrokeWidth": 1.2, "symbolOffset": 16, "labelOffset": 21, "labelFontSize": 21, "labelColor": "black",
                                "labelExpr": "datum.label + '\u2002\u2009'",
                                "padding": 3, "strokeColor": "#333", "fillColor": "white"}}
          }
        },
        {
          "data": {"values": [
            {"x":-55,"y":0.55},{"x":-52,"y":0.83},{"x":-48,"y":1.43},{"x":-44,"y":2.36},{"x":-40,"y":3.73},{"x":-36,"y":5.67},{"x":-32,"y":8.29},{"x":-28,"y":11.63},
            {"x":-24,"y":15.68},{"x":-20,"y":20.32},{"x":-16,"y":25.3},{"x":-12,"y":30.26},{"x":-8,"y":34.77},{"x":-4,"y":38.39},{"x":0,"y":40.72},{"x":3.9,"y":41.5},
            {"x":8,"y":40.64},{"x":12,"y":38.23},{"x":16,"y":34.56},{"x":20,"y":30.02},{"x":24,"y":25.05},{"x":28,"y":20.08},{"x":32,"y":15.47},{"x":36,"y":11.45},
            {"x":40,"y":8.14},{"x":44,"y":5.56},{"x":48,"y":3.65},{"x":52,"y":2.3},{"x":56,"y":1.39},{"x":60,"y":0.81},{"x":64,"y":0.45}
          ]},
          "mark": {"type": "line", "color": "black", "strokeWidth": 3.8, "interpolate": "monotone", "clip": true},
          "encoding": {
            "x": {"field": "x", "type": "quantitative", "axis": {"values": [-50, 0, 50], "labels": false, "title": null, "grid": false, "domain": false, "tickSize": -4}},
            "y": {"field": "y", "type": "quantitative", "axis": {"values": [0, 20, 40], "labels": false, "title": null, "grid": false, "domain": false, "tickSize": -4}}
          }
        }
      ],
      "resolve": {"axis": {"x": "independent", "y": "independent"}}
    },
    {
      "width": 218, "height": 177,
      "view": {"stroke": "#555"},
      "title": {"text": "norm.COV of left events", "fontSize": 21.5, "fontWeight": "normal", "offset": 16},
      "data": {"name": "L"},
      "mark": {"type": "rect"},
      "encoding": {
        "x": {"field": "c", "type": "ordinal", "axis": null, "scale": {"domain": [0,1,2,3,4,5,6,7,8,9,10,11,12,13,14,15,16,17,18,19,20,21,22,23,24,25,26,27,28,29], "paddingInner": 0, "paddingOuter": 0}},
        "y": {"field": "r", "type": "ordinal", "axis": null, "scale": {"domain": [0,1,2,3,4,5,6,7,8,9,10,11,12,13,14,15,16,17,18,19,20,21,22,23,24,25,26,27,28,29], "paddingInner": 0, "paddingOuter": 0}},
        "color": {"field": "v", "type": "quantitative",
                  "scale": {"domain": [0.13, 0.2, 0.3, 0.4, 0.5, 0.6, 0.7, 0.8, 0.9, 1.0], "range": ["#1a1a1a", "#2a2a2a", "#555555", "#8a8a8a", "#c4c4c4", "#dcdcdc", "#f0f0f0", "#959595", "#6c6c6c", "#4a4a4a"], "interpolate": "rgb"},
                  "legend": {"title": null, "orient": "none", "legendX": 230, "legendY": 0, "direction": "vertical", "gradientLength": 177, "gradientThickness": 20,
                             "values": [0.2, 0.4, 0.6, 0.8], "labelFontSize": 21, "labelOffset": 5, "labelColor": "black", "gradientStrokeColor": "#444", "gradientStrokeWidth": 1, "padding": 0, "labelOverlap": false}}
      }
    },
    {
      "width": 217, "height": 177,
      "view": {"stroke": "#555"},
      "title": {"text": "norm. COV of right events", "fontSize": 21.5, "fontWeight": "normal", "offset": 16},
      "data": {"name": "R"},
      "mark": {"type": "rect"},
      "encoding": {
        "x": {"field": "c", "type": "ordinal", "axis": null, "scale": {"domain": [0,1,2,3,4,5,6,7,8,9,10,11,12,13,14,15,16,17,18,19,20,21,22,23,24,25,26,27,28,29], "paddingInner": 0, "paddingOuter": 0}},
        "y": {"field": "r", "type": "ordinal", "axis": null, "scale": {"domain": [0,1,2,3,4,5,6,7,8,9,10,11,12,13,14,15,16,17,18,19,20,21,22,23,24,25,26,27,28,29], "paddingInner": 0, "paddingOuter": 0}},
        "color": {"field": "v", "type": "quantitative",
                  "scale": {"domain": [0.13, 0.2, 0.3, 0.4, 0.5, 0.6, 0.7, 0.8, 0.9, 1.0], "range": ["#1a1a1a", "#2a2a2a", "#555555", "#8a8a8a", "#c4c4c4", "#dcdcdc", "#f0f0f0", "#959595", "#6c6c6c", "#4a4a4a"], "interpolate": "rgb"},
                  "legend": {"title": null, "orient": "none", "legendX": 229, "legendY": 0, "direction": "vertical", "gradientLength": 177, "gradientThickness": 20,
                             "values": [0.2, 0.4, 0.6, 0.8], "labelFontSize": 21, "labelOffset": 5, "labelColor": "black", "gradientStrokeColor": "#444", "gradientStrokeWidth": 1, "padding": 0, "labelOverlap": false}}
      }
    }
  ]
}
